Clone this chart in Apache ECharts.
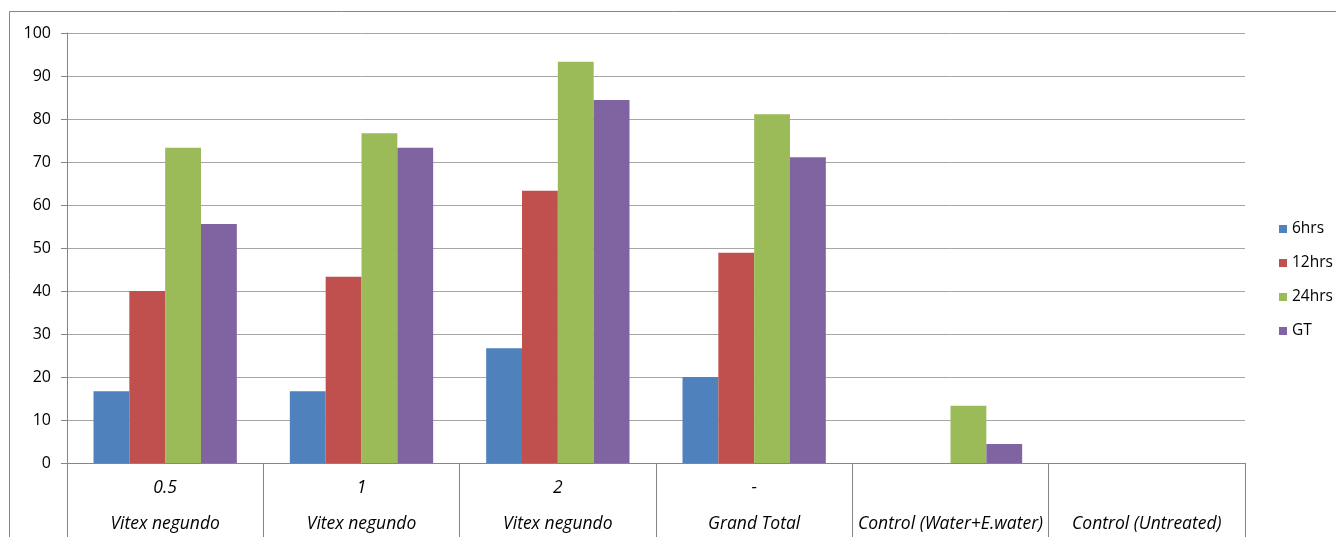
<!DOCTYPE html>
<html>
<head>
<meta charset="utf-8">
<script src="https://cdn.jsdelivr.net/npm/echarts@6/dist/echarts.min.js"></script>
<style>
  html, body { margin: 0; padding: 0; background: #fff; }
  #chart { width: 1336px; height: 537px; }
</style>
</head>
<body>
<div id="chart"></div>
<script>
// Concentration level (first label row) and treatment group (second label row)
const doses = ['0.5', '1', '2', '-', '', ''];
const groups = ['Vitex negundo', 'Vitex negundo', 'Vitex negundo', 'Grand Total',
  'Control (Water+E.water)', 'Control (Untreated)'];

// Values per exposure time
const hrs6  = [16.67, 16.67, 26.67, 20.00, 0, 0];
const hrs12 = [40.00, 43.33, 63.33, 48.89, 0, 0];
const hrs24 = [73.33, 76.67, 93.33, 81.11, 13.33, 0];
const gt    = [55.56, 73.33, 84.44, 71.11, 4.44, 0];

const seriesNames = ['6hrs', '12hrs', '24hrs', 'GT'];
const seriesData = [hrs6, hrs12, hrs24, gt];
const colors = ['#4F81BD', '#C0504D', '#9BBB59', '#8064A2'];

const yTicks = { min: 0, max: 100, interval: 10 };

const FONT = '"Open Sans", Lato, sans-serif';
const chart = echarts.init(document.getElementById('chart'), null, { renderer: 'canvas' });

chart.setOption({
  animation: false,
  color: colors,
  textStyle: { fontFamily: FONT },
  graphic: [{
    type: 'rect',
    shape: { x: 9.5, y: 11.5, width: 1400, height: 600 },
    style: { fill: 'none', stroke: '#868686', lineWidth: 1 },
    silent: true
  }],
  grid: { left: 67, right: 91, top: 33, bottom: 74, containLabel: false },
  legend: {
    orient: 'vertical',
    left: 1274,
    top: 216,
    itemWidth: 8,
    itemHeight: 8,
    itemGap: 18,
    icon: 'rect',
    textStyle: { fontFamily: FONT, fontSize: 15.5, color: '#000', padding: [0, 0, 0, 0] },
    data: seriesNames
  },
  xAxis: [{
    type: 'category',
    data: doses,
    position: 'bottom',
    axisLine: { show: true, lineStyle: { color: '#868686', width: 1 } },
    axisTick: { show: true, interval: 0, length: 80, lineStyle: { color: '#868686' } },
    axisLabel: { interval: 0, margin: 16, fontFamily: FONT, fontSize: 17.5, fontStyle: 'italic', color: '#000' },
    splitLine: { show: false }
  }, {
    type: 'category',
    data: groups,
    position: 'bottom',
    offset: 36,
    axisLine: { show: false },
    axisTick: { show: false },
    axisLabel: { interval: 0, margin: 16, fontFamily: FONT, fontSize: 17.5, fontStyle: 'italic', color: '#000' },
    splitLine: { show: false }
  }],
  yAxis: {
    type: 'value',
    min: yTicks.min,
    max: yTicks.max,
    interval: yTicks.interval,
    axisLine: { show: true, lineStyle: { color: '#868686' } },
    axisTick: { show: true, length: 6, lineStyle: { color: '#868686' } },
    axisLabel: { margin: 16, fontFamily: FONT, fontSize: 16, color: '#000' },
    splitLine: { show: true, lineStyle: { color: '#A6A6A6', width: 1 } }
  },
  series: seriesNames.map((name, i) => ({
    name: name,
    type: 'bar',
    xAxisIndex: 0,
    data: seriesData[i],
    barGap: '0%',
    barCategoryGap: '27%',
    itemStyle: { color: colors[i] }
  }))
});
</script>
</body>
</html>
